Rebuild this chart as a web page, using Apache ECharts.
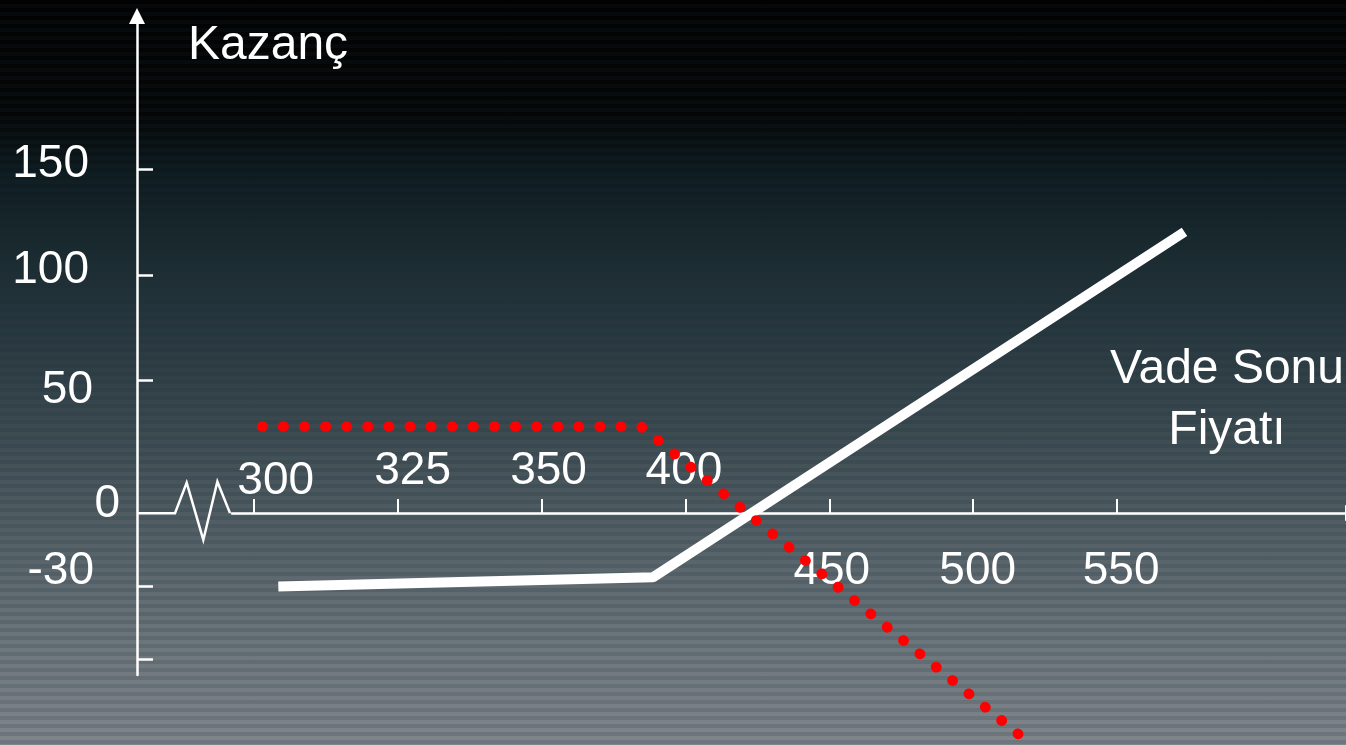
<!DOCTYPE html>
<html>
<head>
<meta charset="utf-8">
<title>Kazanç - Vade Sonu Fiyatı</title>
<script src="https://cdn.jsdelivr.net/npm/echarts@6/dist/echarts.min.js"></script>
<style>
html,body{margin:0;padding:0;width:1346px;height:745px;overflow:hidden;background:#000;}
#bg{position:absolute;left:0;top:0;width:1346px;height:745px;
 background:
  repeating-linear-gradient(180deg, rgba(0,0,0,0) 0px, rgba(0,0,0,0) 4px, rgba(20,45,60,0.16) 4px, rgba(20,45,60,0.16) 8px),
  linear-gradient(180deg, #020202 0px, #050606 115px, #0e1b1f 175px, #19292e 245px, #26363c 320px, #36454b 400px, #48555b 480px, #5a656b 560px, #6e777c 650px, #80858a 745px);}
#chart{position:absolute;left:0;top:0;width:1346px;height:745px;}
</style>
</head>
<body>
<div id="bg"></div>
<div id="chart"></div>
<script>
// ---- data (schematic chart: tick index on x, profit units on y) ----
const xTickValues = [0, 1, 2, 3, 4, 5, 6];
const xTickLabels = ['300', '325', '350', '400', '450', '500', '550'];
const yTickValues = [148.7, 103, 57.3, -31.8, -63.2];
const yLabelValues = [151, 105, 53, 4, -25];
const yTickLabels = ['150', '100', '50', '0', '-30'];
const whiteLine = [[0.171, -31.8], [2.775, -27.8], [6.468, 121.6]];
const redDotted = [[0.058, 37.4], [2.691, 37.4], [5.336, -96.8]];
// axis stub + break zigzag (left panel units 0..1)
const axisBreak = [[0, 0], [0.4, 0], [0.523, 13.2], [0.698, -11.6], [0.846, 13.6], [0.979, 0]];
const titleY = 'Kazanç';
const titleX = 'Vade Sonu\nFiyatı';

// ---- styling ----
const FONT = 'Arial, "Liberation Sans", Helvetica, sans-serif';
const FS = 46;
const TFS = 48;
function tok(pad) { return { fontSize: FS, fontFamily: FONT, color: '#fff', lineHeight: FS, padding: pad }; }

const xAbove = xTickValues.slice(0, 4);
const xBelow = xTickValues.slice(4);
const xAbovePads = [[0, 0, 0, 44], [0, 0, 19, 30], [0, 0, 19, 14], [0, 3, 19, 0]];
const xBelowPads = [[0, 0, 0, 5], [0, 0, 0, 9], [0, 0, 0, 8]];
const yPads = [[0, 31, 0, 0], [0, 31, 0, 0], [0, 27, 0, 0], [0, 0, 0, 0], [0, 26, 0, 0]];

function idxOf(arr, v) {
  let best = 0, d = Infinity;
  arr.forEach((a, i) => { const dd = Math.abs(a - v); if (dd < d) { d = dd; best = i; } });
  return best;
}
const richAbove = {}, richBelow = {}, richY = {};
xAbovePads.forEach((p, i) => richAbove['a' + i] = tok(p));
xBelowPads.forEach((p, i) => richBelow['b' + i] = tok(p));
yPads.forEach((p, i) => richY['y' + i] = tok(p));

const X_MIN = -0.1508, X_MAX = 7.639, Y_MIN = -70, Y_MAX = 215;

const chart = echarts.init(document.getElementById('chart'), null, { renderer: 'canvas' });
chart.setOption({
  animation: false,
  backgroundColor: 'transparent',
  textStyle: { fontFamily: FONT },
  grid: [
    { left: 137, top: 16, width: 95, bottom: 70, outerBoundsMode: 'none', containLabel: false },
    { left: 232, top: 16, right: -7, bottom: 232, outerBoundsMode: 'none', containLabel: false }
  ],
  xAxis: [
    {
      gridIndex: 0, type: 'value', min: 0, max: 1, show: false,
      axisLine: { show: false, onZero: false }, axisTick: { show: false }, axisLabel: { show: false }, splitLine: { show: false }
    },
    {
      gridIndex: 1, type: 'value', position: 'bottom', min: X_MIN, max: X_MAX,
      axisLine: { show: true, onZero: false, symbol: ['none', 'triangle'], symbolSize: [16, 16],
        lineStyle: { color: '#fff', width: 2.5 } },
      axisTick: { show: true, inside: true, length: 14, customValues: xTickValues, lineStyle: { color: '#fff', width: 2 } },
      axisLabel: {
        show: true, inside: true, margin: 9, customValues: xAbove,
        formatter: function (v) { const i = idxOf(xAbove, v); return '{a' + i + '|' + xTickLabels[i] + '}'; },
        rich: richAbove
      },
      splitLine: { show: false }
    },
    {
      gridIndex: 1, type: 'value', position: 'bottom', min: X_MIN, max: X_MAX,
      axisLine: { show: false, onZero: false },
      axisTick: { show: false },
      axisLabel: {
        show: true, margin: 35, customValues: xBelow,
        formatter: function (v) { const i = idxOf(xBelow, v); return '{b' + i + '|' + xTickLabels[4 + i] + '}'; },
        rich: richBelow
      },
      splitLine: { show: false }
    }
  ],
  yAxis: [
    {
      gridIndex: 0, type: 'value', position: 'left', min: Y_MIN, max: Y_MAX,
      axisLine: { show: true, onZero: false, symbol: ['none', 'triangle'], symbolSize: [16, 16],
        lineStyle: { color: '#fff', width: 2.5 } },
      axisTick: { show: true, inside: true, length: 16, customValues: yTickValues, lineStyle: { color: '#fff', width: 2.5 } },
      axisLabel: {
        show: true, margin: 17, customValues: yLabelValues,
        formatter: function (v) { const i = idxOf(yLabelValues, v); return '{y' + i + '|' + yTickLabels[i] + '}'; },
        rich: richY
      },
      splitLine: { show: false }
    },
    { gridIndex: 1, type: 'value', min: 0, max: Y_MAX, show: false }
  ],
  series: [
    {
      name: 'Eksen kırılması', type: 'line', xAxisIndex: 0, yAxisIndex: 0, data: axisBreak,
      symbol: 'none', clip: false, silent: true,
      lineStyle: { color: '#fff', width: 2.5, join: 'miter' }, z: 2
    },
    {
      name: 'Kazanç', type: 'line', xAxisIndex: 1, yAxisIndex: 1, data: whiteLine,
      symbol: 'none', clip: false,
      lineStyle: { color: '#ffffff', width: 10, cap: 'butt', join: 'bevel' }, z: 3
    },
    {
      name: 'Kazanç 2', type: 'line', xAxisIndex: 1, yAxisIndex: 1, data: redDotted,
      symbol: 'none', clip: false,
      lineStyle: { color: '#ff0000', width: 10.5, type: [0.5, 20.6], cap: 'round' }, z: 4
    }
  ],
  graphic: [
    { type: 'text', x: 188, y: 22, silent: true,
      style: { text: titleY, fill: '#fff', fontSize: TFS, fontFamily: FONT, align: 'left', verticalAlign: 'top', lineHeight: TFS } },
    { type: 'text', x: 1227, y: 339, silent: true,
      style: { text: titleX, fill: '#fff', fontSize: TFS, fontFamily: FONT, align: 'center', verticalAlign: 'top', lineHeight: 61 } }
  ]
});
</script>
</body>
</html>
